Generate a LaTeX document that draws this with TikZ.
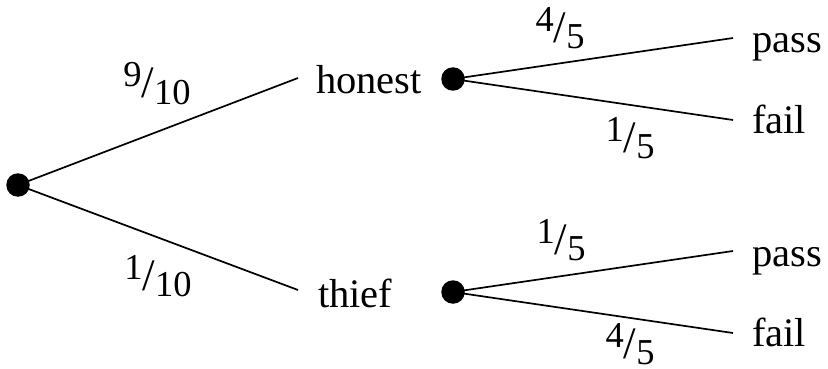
\documentclass[tikz,border=0pt]{standalone}
\usepackage{fontspec}
\setmainfont{Liberation Serif}
\newcommand{\myfrac}[2]{{\fontsize{36.5}{42}\selectfont\raisebox{11pt}{#1}{\fontsize{45}{50}\selectfont/}\raisebox{-6pt}{#2}}}
\begin{document}
\begin{tikzpicture}[x=1pt,y=-1pt,
  dot/.style={circle,fill=black,inner sep=0pt,minimum size=23.5pt},
  word/.style={anchor=base west,inner sep=0pt,font=\fontsize{40.5}{47}\selectfont},
  prob/.style={anchor=base,inner sep=0pt},
  branch/.style={line width=1.7pt}]
\useasboundingbox (0,0) rectangle (828,369);
% dots
\node[dot] (root) at (18,185) {};
\node[dot] (hd) at (453,79) {};
\node[dot] (td) at (453,292) {};
% words
\node[word] (honest) at (316,93) {honest};
\node[word] (thief) at (318,307) {thief};
\node[word] (hpass) at (752,53) {pass};
\node[word] (hfail) at (752,133) {fail};
\node[word] (tpass) at (752,266) {pass};
\node[word] (tfail) at (752,346) {fail};
% line ends
\coordinate (eh) at (298,78);
\coordinate (et) at (298,290);
\coordinate (ehp) at (733,38);
\coordinate (ehf) at (733,120);
\coordinate (etp) at (733,251);
\coordinate (etf) at (733,333);
% branches
\draw[branch] (root.center) -- (eh);
\draw[branch] (root.center) -- (et);
\draw[branch] (hd.center) -- (ehp);
\draw[branch] (hd.center) -- (ehf);
\draw[branch] (td.center) -- (etp);
\draw[branch] (td.center) -- (etf);
% probabilities
\node[prob] (p1) at (157,98) {\myfrac{9}{10}};
\node[prob] (p2) at (158,290) {\myfrac{1}{10}};
\node[prob] (p3) at (560,43) {\myfrac{4}{5}};
\node[prob] (p4) at (630,152) {\myfrac{1}{5}};
\node[prob] (p5) at (561,254) {\myfrac{1}{5}};
\node[prob] (p6) at (630,358) {\myfrac{4}{5}};
\end{tikzpicture}
\end{document}
